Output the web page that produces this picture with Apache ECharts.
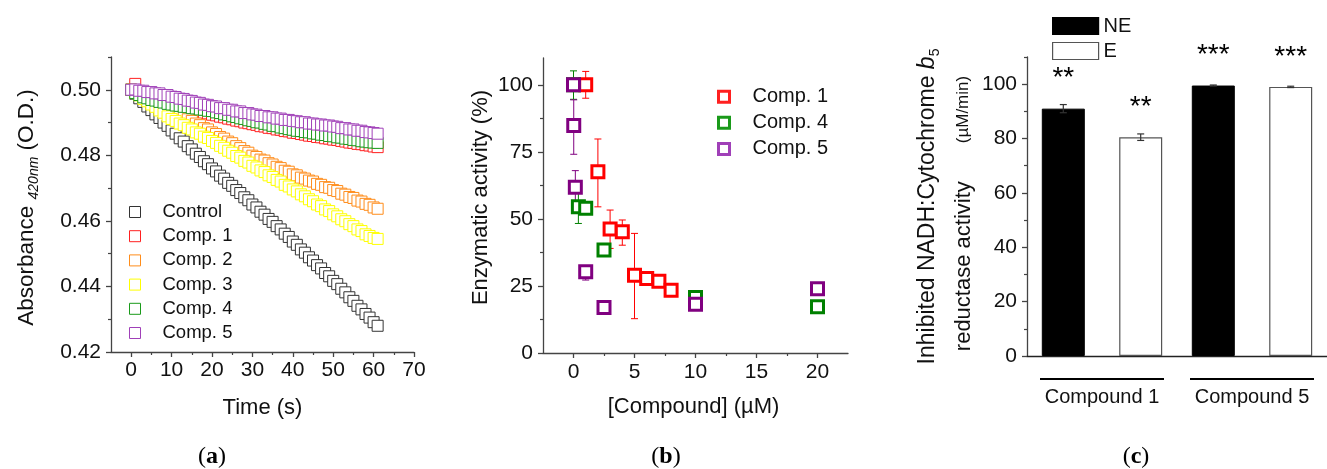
<!DOCTYPE html>
<html><head><meta charset="utf-8">
<script src="https://cdn.jsdelivr.net/npm/echarts@6/dist/echarts.min.js"></script>
<style>html,body{margin:0;padding:0;background:#fff}#c{width:1327px;height:469px}</style>
</head><body><div id="c"></div>
<script>
const FONT = '"Liberation Sans", Arial, sans-serif';
const SERIF = '"Liberation Serif", "DejaVu Serif", serif';

// ---------- Panel (a): absorbance vs time ----------
const timeS = [0,1,2,3,4,5,6,7,8,9,10,11,12,13,14,15,16,17,18,19,20,21,22,23,24,25,26,27,28,29,30,31,32,33,34,35,36,37,38,39,40,41,42,43,44,45,46,47,48,49,50,51,52,53,54,55,56,57,58,59,60,61];
const absControl = [0.5000,0.4988,0.4974,0.4963,0.4949,0.4938,0.4925,0.4914,0.4900,0.4890,
  0.4876,0.4866,0.4852,0.4842,0.4828,0.4818,0.4805,0.4795,0.4782,0.4773,
  0.4760,0.4751,0.4738,0.4729,0.4716,0.4707,0.4694,0.4685,0.4672,0.4663,
  0.4650,0.4641,0.4628,0.4619,0.4606,0.4597,0.4584,0.4574,0.4561,0.4551,
  0.4537,0.4527,0.4513,0.4503,0.4489,0.4479,0.4465,0.4455,0.4441,0.4431,
  0.4417,0.4407,0.4393,0.4382,0.4367,0.4356,0.4341,0.4330,0.4316,0.4305,
  0.4291,0.4280];
const absComp1 = [0.5000,0.5018,0.4996,0.4993,0.4985,0.4982,0.4975,0.4972,0.4965,0.4961,
  0.4956,0.4953,0.4948,0.4946,0.4942,0.4940,0.4936,0.4934,0.4930,0.4928,
  0.4924,0.4922,0.4918,0.4916,0.4912,0.4910,0.4906,0.4904,0.4900,0.4898,
  0.4895,0.4893,0.4889,0.4888,0.4884,0.4883,0.4879,0.4878,0.4874,0.4873,
  0.4869,0.4868,0.4865,0.4863,0.4860,0.4859,0.4856,0.4855,0.4852,0.4851,
  0.4848,0.4847,0.4844,0.4842,0.4839,0.4838,0.4835,0.4834,0.4831,0.4830,
  0.4827,0.4825];
const absComp2 = [0.5000,0.4994,0.4986,0.4981,0.4973,0.4969,0.4961,0.4956,0.4948,0.4944,
  0.4936,0.4931,0.4923,0.4918,0.4910,0.4905,0.4897,0.4892,0.4883,0.4879,
  0.4870,0.4865,0.4856,0.4851,0.4842,0.4837,0.4828,0.4822,0.4813,0.4808,
  0.4799,0.4795,0.4787,0.4784,0.4776,0.4772,0.4765,0.4761,0.4753,0.4750,
  0.4742,0.4739,0.4732,0.4729,0.4723,0.4720,0.4713,0.4710,0.4703,0.4701,
  0.4694,0.4691,0.4683,0.4680,0.4673,0.4670,0.4662,0.4659,0.4652,0.4649,
  0.4641,0.4637];
const absComp3 = [0.5000,0.4990,0.4983,0.4972,0.4965,0.4955,0.4948,0.4937,0.4930,0.4919,
  0.4911,0.4905,0.4897,0.4892,0.4884,0.4879,0.4870,0.4866,0.4857,0.4853,
  0.4844,0.4838,0.4829,0.4823,0.4814,0.4808,0.4798,0.4793,0.4783,0.4778,
  0.4768,0.4763,0.4754,0.4749,0.4739,0.4734,0.4725,0.4720,0.4710,0.4705,
  0.4696,0.4690,0.4681,0.4675,0.4666,0.4660,0.4650,0.4645,0.4635,0.4630,
  0.4620,0.4614,0.4605,0.4599,0.4590,0.4584,0.4574,0.4569,0.4559,0.4554,
  0.4548,0.4545];
const absComp4 = [0.5000,0.4990,0.4984,0.4977,0.4974,0.4969,0.4967,0.4963,0.4961,0.4957,
  0.4955,0.4952,0.4951,0.4948,0.4947,0.4944,0.4943,0.4940,0.4939,0.4936,
  0.4935,0.4931,0.4929,0.4925,0.4923,0.4919,0.4917,0.4913,0.4911,0.4907,
  0.4905,0.4901,0.4900,0.4896,0.4894,0.4890,0.4889,0.4885,0.4883,0.4880,
  0.4878,0.4875,0.4874,0.4871,0.4870,0.4867,0.4866,0.4863,0.4862,0.4859,
  0.4858,0.4855,0.4854,0.4851,0.4850,0.4847,0.4846,0.4843,0.4842,0.4840,
  0.4839,0.4838];
const absComp5 = [0.5000,0.5001,0.4997,0.4997,0.4993,0.4993,0.4989,0.4989,0.4984,0.4984,
  0.4979,0.4978,0.4973,0.4972,0.4967,0.4966,0.4961,0.4960,0.4955,0.4954,
  0.4950,0.4949,0.4944,0.4944,0.4939,0.4939,0.4934,0.4934,0.4929,0.4929,
  0.4925,0.4924,0.4920,0.4920,0.4916,0.4916,0.4912,0.4912,0.4908,0.4908,
  0.4905,0.4904,0.4901,0.4901,0.4897,0.4897,0.4894,0.4894,0.4891,0.4891,
  0.4888,0.4887,0.4883,0.4883,0.4879,0.4879,0.4875,0.4875,0.4871,0.4870,
  0.4868,0.4866];
const aNames = ['Control','Comp. 1','Comp. 2','Comp. 3','Comp. 4','Comp. 5'];
const aColors = ['#333333','#ff2020','#ff8c1a','#ffff00','#1a9a1a','#a040b8'];
const aSeriesData = [absControl, absComp1, absComp2, absComp3, absComp4, absComp5];
const aXMajor = [0,10,20,30,40,50,60,70];
const aXMinor = [5,15,25,35,45,55,65];
const aYMajor = [0.42,0.44,0.46,0.48,0.50];
const aYMinor = [0.43,0.45,0.47,0.49,0.51];

// ---------- Panel (b): enzymatic activity vs [compound] ----------
const bC1x = [1,2,3,4,5,6,7,8];
const bC1y = [100,67.6,46.2,45.2,29.0,27.8,26.8,23.4];
const bC1lo = [95,54.5,39.0,40.2,12.8,27.0,26.0,22.5];
const bC1hi = [105,79.8,53.3,49.6,44.6,28.6,27.6,24.3];
const bC4x = [0,0.4,1,2.5,10,20];
const bC4y = [100,54.5,54.0,38.4,20.7,17.2];
const bC4lo = [94.6,48.3,53.0,37.6,20.1,16.6];
const bC4hi = [105.2,60.5,55.0,39.2,21.3,17.8];
const bC5x = [0,0.02,0.15,1,2.5,10,20];
const bC5y = [100,84.8,61.8,30.3,17.0,18.2,24.0];
const bC5lo = [99.2,74.1,56.5,27.2,16.5,17.4,23.4];
const bC5hi = [100.8,94.4,68.0,32.4,17.5,19.0,24.6];
const bNames = ['Comp. 1','Comp. 4','Comp. 5'];
const bColors = ['#ff0000','#008000','#800080'];
const bXMajor = [0,5,10,15,20];
const bXMinor = [2.5,7.5,12.5,17.5];
const bYMajor = [0,25,50,75,100];
const bYMinor = [12.5,37.5,62.5,87.5];

// ---------- Panel (c): inhibited reductase activity ----------
const cGroups = ['Compound 1','Compound 5'];
const cNE = [91.0, 99.5];
const cNEerr = [1.5, 0.2];
const cE = [80.5, 99.0];
const cEerr = [1.2, 0.25];
const cStarsNE = ['**','***'];
const cStarsE = ['**','***'];
const cYMajor = [0,20,40,60,80,100];
const cYMinor = [10,30,50,70,90,110];

const AXC = '#444';
const BAR_W = 43, BAR_GAP = 0.8;
const BAR_OFF = (BAR_W + BAR_W * BAR_GAP) / 2;

function majorAxis(grid, min, max, vals, extra) {
  return Object.assign({
    type: 'value', gridIndex: grid, min: min, max: max,
    axisLine: {show: true, onZero: false, lineStyle: {color: AXC, width: 1.3}},
    axisTick: {show: true, inside: false, length: 5, customValues: vals, lineStyle: {color: AXC, width: 1.3}},
    axisLabel: {show: true, customValues: vals, fontSize: 21, fontFamily: FONT, color: '#111'},
    splitLine: {show: false}
  }, extra || {});
}
function minorAxis(grid, min, max, vals, pos) {
  return {
    type: 'value', gridIndex: grid, min: min, max: max, position: pos,
    axisLine: {show: false, onZero: false},
    axisTick: {show: true, inside: false, length: 3, customValues: vals, lineStyle: {color: AXC, width: 1.2}},
    axisLabel: {show: false},
    splitLine: {show: false}
  };
}

const xAxes = [];
const yAxes = [];
// a
const xa = majorAxis(0, -5, 70, aXMajor); xa.position = 'bottom'; xa.axisLabel.margin = 8;
xAxes.push(xa);
xAxes.push(minorAxis(0, -5, 70, aXMinor, 'bottom'));
const ya = majorAxis(0, 0.42, 0.51, aYMajor); ya.position = 'left'; ya.axisLabel.margin = 10;
ya.axisLabel.formatter = v => Number(v).toFixed(2);
yAxes.push(ya);
yAxes.push(minorAxis(0, 0.42, 0.51, aYMinor, 'left'));
// b
const xb = majorAxis(1, -2.5, 22.5, bXMajor); xb.position = 'bottom'; xb.axisLabel.margin = 9;
xAxes.push(xb);
xAxes.push(minorAxis(1, -2.5, 22.5, bXMinor, 'bottom'));
const yb = majorAxis(1, 0, 110, bYMajor); yb.position = 'left'; yb.axisLabel.margin = 10;
yAxes.push(yb);
yAxes.push(minorAxis(1, 0, 110, bYMinor, 'left'));
// c
xAxes.push({
  type: 'category', gridIndex: 2, data: cGroups, position: 'bottom',
  axisLine: {show: true, onZero: false, lineStyle: {color: '#222', width: 1.3}},
  axisTick: {show: false},
  axisLabel: {
    show: true, interval: 0, margin: 22,
    formatter: v => '{ln|}\n{t|' + v + '}',
    rich: {
      ln: {width: 124, height: 2, lineHeight: 2, backgroundColor: '#000', align: 'center'},
      t: {fontSize: 20, fontFamily: FONT, color: '#111', lineHeight: 34, align: 'center'}
    }
  },
  splitLine: {show: false}
});
const yc = majorAxis(2, 0, 110, cYMajor); yc.position = 'left'; yc.axisLabel.margin = 10;
yAxes.push(yc);
yAxes.push(minorAxis(2, 0, 110, cYMinor, 'left'));

const series = [];
// a series
aSeriesData.forEach((arr, k) => {
  series.push({
    type: 'scatter', name: aNames[k], xAxisIndex: 0, yAxisIndex: 0,
    data: timeS.map((t, i) => [t, arr[i]]),
    symbol: 'rect', symbolSize: 11,
    itemStyle: {color: '#ffffff', borderColor: aColors[k], borderWidth: 1, opacity: 1},
    emphasis: {disabled: true}, silent: true, z: 2 + k
  });
});

// b error bars + points
function errRender(color, capHalf) {
  return function (params, api) {
    const x = api.value(0), lo = api.value(1), hi = api.value(2);
    const pLo = api.coord([x, lo]), pHi = api.coord([x, hi]);
    const st = {stroke: color, lineWidth: 1};
    return {type: 'group', children: [
      {type: 'line', shape: {x1: pLo[0], y1: pLo[1], x2: pHi[0], y2: pHi[1]}, style: st},
      {type: 'line', shape: {x1: pLo[0] - capHalf, y1: pLo[1], x2: pLo[0] + capHalf, y2: pLo[1]}, style: st},
      {type: 'line', shape: {x1: pHi[0] - capHalf, y1: pHi[1], x2: pHi[0] + capHalf, y2: pHi[1]}, style: st}
    ]};
  };
}
const bSets = [[bC1x, bC1y, bC1lo, bC1hi], [bC4x, bC4y, bC4lo, bC4hi], [bC5x, bC5y, bC5lo, bC5hi]];
bSets.forEach((s, k) => {
  series.push({
    type: 'custom', name: 'err' + k, xAxisIndex: 2, yAxisIndex: 2,
    data: s[0].map((x, i) => [x, s[2][i], s[3][i]]),
    encode: {x: 0, y: [1, 2]},
    renderItem: errRender(bColors[k], 3.5), silent: true, z: 3
  });
});
bSets.forEach((s, k) => {
  series.push({
    type: 'scatter', name: bNames[k], xAxisIndex: 2, yAxisIndex: 2,
    data: s[0].map((x, i) => [x, s[1][i]]),
    symbol: 'rect', symbolSize: 12,
    itemStyle: {color: '#ffffff', borderColor: bColors[k], borderWidth: 3, opacity: 1},
    emphasis: {disabled: true}, silent: true, z: 4
  });
});

// c bars
function starLabel(stars) {
  return {show: true, position: 'top', distance: 16, formatter: p => stars[p.dataIndex],
    fontSize: 28, fontFamily: FONT, color: '#000'};
}
series.push({
  type: 'bar', name: 'NE', xAxisIndex: 4, yAxisIndex: 4, data: cNE,
  barWidth: BAR_W, barGap: (BAR_GAP * 100) + '%',
  itemStyle: {color: '#000000', borderColor: '#000000', borderWidth: 1},
  label: starLabel(cStarsNE), emphasis: {disabled: true}, silent: true
});
series.push({
  type: 'bar', name: 'E', xAxisIndex: 4, yAxisIndex: 4, data: cE,
  barWidth: BAR_W,
  itemStyle: {color: '#ffffff', borderColor: '#555555', borderWidth: 1.2},
  label: starLabel(cStarsE), emphasis: {disabled: true}, silent: true
});
function barErrRender(params, api) {
  const c = api.value(0), v = api.value(1), e = api.value(2), side = api.value(3);
  const p = api.coord([c, v]);
  const x = p[0] + side * BAR_OFF;
  const yT = api.coord([c, v + e])[1], yB = api.coord([c, v - e])[1];
  const st = {stroke: '#333', lineWidth: 1.2};
  return {type: 'group', children: [
    {type: 'line', shape: {x1: x, y1: yB, x2: x, y2: yT}, style: st},
    {type: 'line', shape: {x1: x - 3.5, y1: yT, x2: x + 3.5, y2: yT}, style: st},
    {type: 'line', shape: {x1: x - 3.5, y1: yB, x2: x + 3.5, y2: yB}, style: st}
  ]};
}
series.push({
  type: 'custom', name: 'errC', xAxisIndex: 4, yAxisIndex: 4,
  data: cNE.map((v, i) => [i, v, cNEerr[i], -1]).concat(cE.map((v, i) => [i, v, cEerr[i], 1])),
  encode: {x: 0, y: 1},
  renderItem: barErrRender, silent: true, z: 5
});

const titleStyle = {fontSize: 22, fontFamily: FONT};
const option = {
  animation: false,
  backgroundColor: '#ffffff',
  grid: [
    {left: 111, top: 57, width: 303, height: 295},
    {left: 543, top: 58, width: 305, height: 295},
    {left: 1027, top: 57, width: 311, height: 299}
  ],
  xAxis: xAxes,
  yAxis: yAxes,
  legend: [
    {data: aNames, orient: 'vertical', left: 129, top: 202.5, padding: 0, itemWidth: 11, itemHeight: 11, itemGap: 5.2,
     selectedMode: false, icon: 'rect', itemStyle: {borderWidth: 1},
     textStyle: {fontSize: 18.5, fontFamily: FONT, color: '#111', lineHeight: 11, padding: [0, 0, 0, 17]}},
    {data: bNames, orient: 'vertical', left: 717, top: 86.7, padding: 0, itemWidth: 11, itemHeight: 11, itemGap: 6.1,
     selectedMode: false, icon: 'rect', itemStyle: {borderWidth: 3},
     textStyle: {fontSize: 20, fontFamily: FONT, color: '#111', lineHeight: 11, padding: [0, 0, 0, 18]}},
    {data: ['NE', 'E'], orient: 'vertical', left: 1052, top: 16, padding: 0, itemWidth: 46, itemHeight: 17, itemGap: 5,
     selectedMode: false, icon: 'rect', itemStyle: {borderWidth: 1.2},
     textStyle: {fontSize: 20, fontFamily: FONT, color: '#111', lineHeight: 17}}
  ],
  graphic: [
    {type: 'text', x: 26.5, y: 207.5, rotation: Math.PI / 2, silent: true,
     style: {text: '{a|Absorbance }{s|420nm}{a| (O.D.)}', textAlign: 'center', textVerticalAlign: 'middle', fill: '#111',
       rich: {a: {fontSize: 22.5, fontFamily: FONT, lineHeight: 30, fill: '#111'},
              s: {fontSize: 14, fontFamily: FONT, fontStyle: 'italic', lineHeight: 30, verticalAlign: 'bottom', fill: '#111'}}}},
    {type: 'text', x: 262.5, y: 407.5, silent: true,
     style: Object.assign({text: 'Time (s)', textAlign: 'center', textVerticalAlign: 'middle', fill: '#111'}, titleStyle)},
    {type: 'text', x: 480.5, y: 197.5, rotation: Math.PI / 2, silent: true,
     style: Object.assign({text: 'Enzymatic activity (%)', textAlign: 'center', textVerticalAlign: 'middle', fill: '#111'}, titleStyle)},
    {type: 'text', x: 693.5, y: 406.5, silent: true,
     style: Object.assign({text: '[Compound] (\u00b5M)', textAlign: 'center', textVerticalAlign: 'middle', fill: '#111'}, titleStyle)},
    {type: 'text', x: 927.5, y: 206.5, rotation: Math.PI / 2, silent: true,
     style: {text: '{a|Inhibited NADH:Cytochrome }{i|b}{s|5}', textAlign: 'center', textVerticalAlign: 'middle', fill: '#111',
       rich: {a: {fontSize: 23, fontFamily: FONT, lineHeight: 30, fill: '#111'},
              i: {fontSize: 23, fontFamily: FONT, fontStyle: 'italic', lineHeight: 30, fill: '#111'},
              s: {fontSize: 14, fontFamily: FONT, lineHeight: 30, verticalAlign: 'bottom', fill: '#111'}}}},
    {type: 'text', x: 963.5, y: 213.5, rotation: Math.PI / 2, silent: true,
     style: {text: '{a|reductase activity}{s|(\u00b5M/min)}', textAlign: 'center', textVerticalAlign: 'middle', fill: '#111',
       rich: {a: {fontSize: 22, fontFamily: FONT, lineHeight: 30, fill: '#111'},
              s: {fontSize: 17, fontFamily: FONT, lineHeight: 30, padding: [0, 0, 0, 38], fill: '#111'}}}},
    {type: 'text', x: 212, y: 457, silent: true,
     style: {text: '{p|(}{b|a}{p|)}', textAlign: 'center', textVerticalAlign: 'middle',
       rich: {p: {fontSize: 24, fontFamily: SERIF, fill: '#000'}, b: {fontSize: 24, fontFamily: SERIF, fontWeight: 'bold', fill: '#000'}}}},
    {type: 'text', x: 666, y: 457, silent: true,
     style: {text: '{p|(}{b|b}{p|)}', textAlign: 'center', textVerticalAlign: 'middle',
       rich: {p: {fontSize: 24, fontFamily: SERIF, fill: '#000'}, b: {fontSize: 24, fontFamily: SERIF, fontWeight: 'bold', fill: '#000'}}}},
    {type: 'text', x: 1136, y: 457, silent: true,
     style: {text: '{p|(}{b|c}{p|)}', textAlign: 'center', textVerticalAlign: 'middle',
       rich: {p: {fontSize: 24, fontFamily: SERIF, fill: '#000'}, b: {fontSize: 24, fontFamily: SERIF, fontWeight: 'bold', fill: '#000'}}}}
  ],
  series: series
};
const chart = echarts.init(document.getElementById('c'), null, {renderer: 'canvas'});
chart.setOption(option);
</script>
</body></html>
